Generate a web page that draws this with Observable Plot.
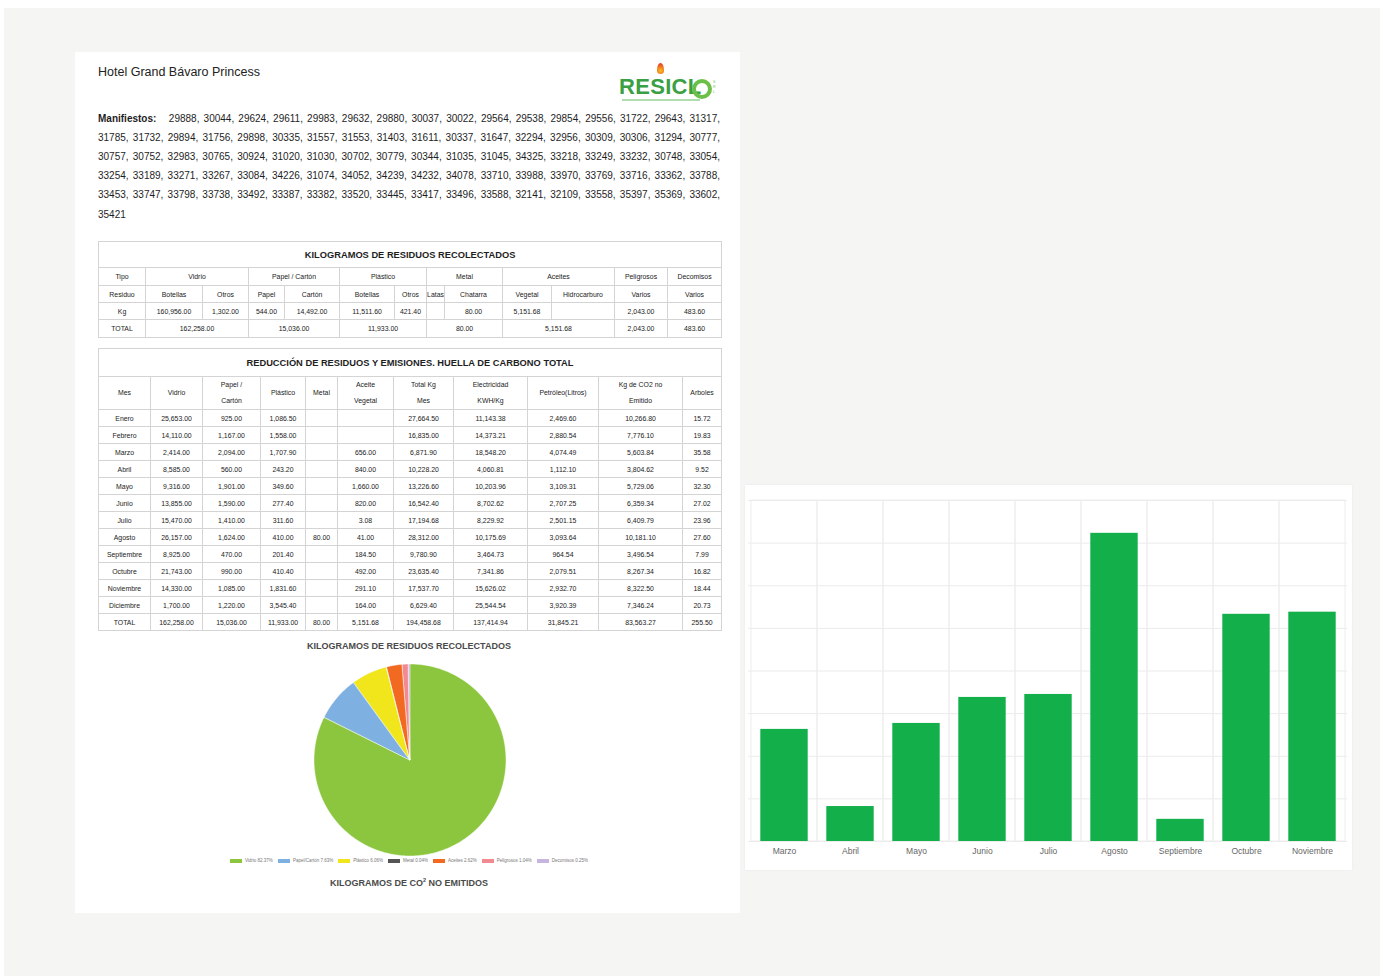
<!DOCTYPE html>
<html><head><meta charset="utf-8">
<script src="https://cdn.jsdelivr.net/npm/d3@7"></script>
<script src="https://cdn.jsdelivr.net/npm/@observablehq/plot@0.6"></script>
<style>
body{margin:0;width:1383px;height:978px;background:#fff;font-family:"Liberation Sans",Arial,sans-serif;position:relative;overflow:hidden;color:#222}
#bg{position:absolute;left:4px;top:8px;width:1376px;height:968px;background:#f5f5f4}
#paper{position:absolute;left:75px;top:52px;width:665px;height:861px;background:#fff}
.abs{position:absolute}
#hotel{left:98px;top:65px;font-size:12.5px;line-height:14px;color:#222}
#manif{left:98px;top:108.5px;width:622px;font-size:10px;line-height:19.2px;color:#1e1e1e}
#manif div{text-align:justify;text-align-last:justify;white-space:normal}
#manif div.last{text-align-last:left}
table{border-collapse:collapse;table-layout:fixed;position:absolute;left:98px;width:623px;font-size:6.9px;color:#222}
td,th{border:1px solid #d4d4d4;text-align:center;padding:0;overflow:hidden;white-space:nowrap;font-weight:normal}
th.title{font-weight:bold;font-size:9.3px;color:#1e1e1e}
#t2 .hdr td{line-height:16px;white-space:normal}
.ptitle{left:75px;width:668px;text-align:center;font-weight:bold;font-size:9px;color:#4a4a4a}
#legend{left:200px;width:418px;top:858px;display:flex;justify-content:center;align-items:center;gap:5px;font-size:4.5px;color:#777}
#legend span.sw{display:inline-block;width:12px;height:4px;margin-right:3px;vertical-align:middle}
#barpanel{left:745px;top:485px;width:607px;height:385px;background:#fff;box-shadow:0 0 2px rgba(0,0,0,0.06)}
</style></head>
<body>
<div id="bg"></div>
<div id="paper"></div>
<div id="hotel" class="abs">Hotel Grand Bávaro Princess</div>
<div id="logo" class="abs" style="left:619px;top:62px;width:106px;height:42px">
  <div class="abs" style="left:38px;top:1px;width:7px;height:11px;background:radial-gradient(circle at 50% 70%,#f6c022 0%,#ef6a1f 55%,#d92c1e 100%);border-radius:50% 50% 50% 50%/65% 65% 35% 35%"></div>
  <div class="abs" style="left:0;top:14px;font-weight:bold;font-size:22px;line-height:22px;color:#3aa043;letter-spacing:0.3px">RESICL</div>
  <div class="abs" style="left:73px;top:17px;width:12px;height:12px;border:4px solid #6cc04a;border-radius:50%"></div>
  <div class="abs" style="left:94px;top:18px;width:4px;height:16px;font-size:3.5px;line-height:5px;color:#6cc04a">S<br>R<br>L</div>
  <div class="abs" style="left:3px;top:37px;width:78px;height:2px;background:#8fcf8a;opacity:0.7"></div>
</div>
<div id="manif" class="abs"></div>
<table id="t1" style="top:241px"></table>
<table id="t2" style="top:348px"></table>
<div class="abs ptitle" style="top:641px">KILOGRAMOS DE RESIDUOS RECOLECTADOS</div>
<div id="pie" class="abs" style="left:314px;top:664px;width:192px;height:192px"></div>
<div id="legend" class="abs"></div>
<div class="abs ptitle" style="top:877px">KILOGRAMOS DE CO<sup style="font-size:5.5px">2</sup> NO EMITIDOS</div>
<div id="barpanel" class="abs"></div>
<script>
// ---------- DATA ----------
const hotelName = "Hotel Grand Bávaro Princess";
const manifiestos = [29888,30044,29624,29611,29983,29632,29880,30037,30022,29564,29538,29854,29556,31722,29643,31317,
31785,31732,29894,31756,29898,30335,31557,31553,31403,31611,30337,31647,32294,32956,30309,30306,31294,30777,
30757,30752,32983,30765,30924,31020,31030,30702,30779,30344,31035,31045,34325,33218,33249,33232,30748,33054,
33254,33189,33271,33267,33084,34226,31074,34052,34239,34232,34078,33710,33988,33970,33769,33716,33362,33788,
33453,33747,33798,33738,33492,33387,33382,33520,33445,33417,33496,33588,32141,32109,33558,35397,35369,33602,
35421];
const manifLineCounts = [16,18,18,18,18,1];

// Table 1
const t1Title = "KILOGRAMOS DE RESIDUOS RECOLECTADOS";
const t1Tipos = [["Vidrio",2],["Papel / Cartón",2],["Plástico",2],["Metal",2],["Aceites",2],["Peligrosos",1],["Decomisos",1]];
const t1Residuos = ["Botellas","Otros","Papel","Cartón","Botellas","Otros","Latas","Chatarra","Vegetal","Hidrocarburo","Varios","Varios"];
const t1Kg = [160956,1302,544,14492,11511.6,421.4,null,80,5151.68,null,2043,483.6];
const t1Totales = [162258,15036,11933,80,5151.68,2043,483.6];
const t1ColW = [47,57,46,36,55,55,32,18,58,49,63,53,54];

// Table 2
const t2Title = "REDUCCIÓN DE RESIDUOS Y EMISIONES. HUELLA DE CARBONO TOTAL";
const t2Headers = ["Mes","Vidrio","Papel /<br>Cartón","Plástico","Metal","Aceite<br>Vegetal","Total Kg<br>Mes","Electricidad<br>KWH/Kg","Petróleo(Litros)","Kg de CO2 no<br>Emitido","Arboles"];
const meses = ["Enero","Febrero","Marzo","Abril","Mayo","Junio","Julio","Agosto","Septiembre","Octubre","Noviembre","Diciembre"];
const vidrio = [25653,14110,2414,8585,9316,13855,15470,26157,8925,21743,14330,1700];
const papelCarton = [925,1167,2094,560,1901,1590,1410,1624,470,990,1085,1220];
const plastico = [1086.5,1558,1707.9,243.2,349.6,277.4,311.6,410,201.4,410.4,1831.6,3545.4];
const metal = [null,null,null,null,null,null,null,80,null,null,null,null];
const aceiteVegetal = [null,null,656,840,1660,820,3.08,41,184.5,492,291.1,164];
const totalKgMes = [27664.5,16835,6871.9,10228.2,13226.6,16542.4,17194.68,28312,9780.9,23635.4,17537.7,6629.4];
const electricidad = [11143.38,14373.21,18548.2,4060.81,10203.96,8702.62,8229.92,10175.69,3464.73,7341.86,15626.02,25544.54];
const petroleo = [2469.6,2880.54,4074.49,1112.1,3109.31,2707.25,2501.15,3093.64,964.54,2079.51,2932.7,3920.39];
const co2NoEmitido = [10266.8,7776.1,5603.84,3804.62,5729.06,6359.34,6409.79,10181.1,3496.54,8267.34,8322.5,7346.24];
const arboles = [15.72,19.83,35.58,9.52,32.3,27.02,23.96,27.6,7.99,16.82,18.44,20.73];
const t2Totales = [162258,15036,11933,80,5151.68,194458.68,137414.94,31845.21,83563.27,255.5];
const t2ColW = [52,52,58,45,32,56,60,74,71,84,39];

// Pie
const pieCategorias = ["Vidrio","Papel/Cartón","Plástico","Metal","Aceites","Peligrosos","Decomisos"];
const pieKg = [162258,15036,11933,80,5151.68,2043,483.6];
const pieColores = ["#8cc63f","#7fb0e2","#f1e61b","#555555","#f26a21","#f28a92","#c7b5e0"];

// Bar chart
const barMeses = ["Marzo","Abril","Mayo","Junio","Julio","Agosto","Septiembre","Octubre","Noviembre"];
const barValores = [2.63,0.82,2.77,3.38,3.45,7.23,0.52,5.33,5.38];
const barGrid = [0,1,2,3,4,5,6,7,8];

// ---------- RENDER ----------
const fmt = v => v == null ? "" : v.toLocaleString("en-US",{minimumFractionDigits:2,maximumFractionDigits:2});

// manifest
{
  const el = document.getElementById("manif");
  let k = 0;
  manifLineCounts.forEach((n, li) => {
    const nums = manifiestos.slice(k, k+n); k += n;
    const last = li === manifLineCounts.length-1;
    const txt = nums.join(", ") + (last ? "" : ",");
    const d = document.createElement("div");
    if (last) d.className = "last";
    d.innerHTML = (li === 0 ? "<b>Manifiestos:</b>&nbsp;&nbsp; " : "") + txt;
    el.appendChild(d);
  });
}

// table 1
{
  const t = document.getElementById("t1");
  let h = "<colgroup>" + t1ColW.map(w=>`<col style="width:${w}px">`).join("") + "</colgroup>";
  h += `<tr style="height:26px"><th class="title" colspan="13">${t1Title}</th></tr>`;
  h += `<tr style="height:18px"><td>Tipo</td>` + t1Tipos.map(([n,c])=>`<td colspan="${c}">${n}</td>`).join("") + "</tr>";
  h += `<tr style="height:17px"><td>Residuo</td>` + t1Residuos.map(r=>`<td>${r}</td>`).join("") + "</tr>";
  h += `<tr style="height:17px"><td>Kg</td>` + t1Kg.map(v=>`<td>${fmt(v)}</td>`).join("") + "</tr>";
  h += `<tr style="height:18px"><td>TOTAL</td>` + t1Totales.map((v,i)=>`<td colspan="${t1Tipos[i][1]}">${fmt(v)}</td>`).join("") + "</tr>";
  t.innerHTML = h;
}

// table 2
{
  const t = document.getElementById("t2");
  let h = "<colgroup>" + t2ColW.map(w=>`<col style="width:${w}px">`).join("") + "</colgroup>";
  h += `<tr style="height:28px"><th class="title" colspan="11">${t2Title}</th></tr>`;
  h += `<tr class="hdr" style="height:32px">` + t2Headers.map(x=>`<td>${x}</td>`).join("") + "</tr>";
  const cols = [vidrio,papelCarton,plastico,metal,aceiteVegetal,totalKgMes,electricidad,petroleo,co2NoEmitido,arboles];
  meses.forEach((m,i)=>{
    h += `<tr style="height:17px"><td>${m}</td>` + cols.map(c=>`<td>${fmt(c[i])}</td>`).join("") + "</tr>";
  });
  h += `<tr style="height:17px"><td>TOTAL</td>` + t2Totales.map(v=>`<td>${fmt(v)}</td>`).join("") + "</tr>";
  t.innerHTML = h;
}

// pie (wedges as areas from center to arc, through linear scales)
{
  const total = d3.sum(pieKg);
  const rows = [];
  let acc = 0;
  pieKg.forEach((v,i)=>{
    const a0 = acc/total*2*Math.PI, a1 = (acc+v)/total*2*Math.PI;
    acc += v;
    const n = Math.max(2, Math.ceil((a1-a0)/0.01));
    for (let j=0;j<=n;j++){
      const a = a0 + (a1-a0)*j/n;
      rows.push({cat:pieCategorias[i], x1:0, y1:0, x2:Math.sin(a), y2:Math.cos(a)});
    }
  });
  const pie = Plot.plot({
    width:192, height:192, margin:0,
    x:{domain:[-1,1], axis:null},
    y:{domain:[-1,1], axis:null},
    color:{domain:pieCategorias, range:pieColores},
    style:{background:"transparent", overflow:"visible"},
    marks:[
      Plot.area(rows, {x1:"x1", y1:"y1", x2:"x2", y2:"y2", z:"cat", fill:"cat", stroke:"#ffffff", strokeWidth:0.6, strokeOpacity:0.8})
    ]
  });
  document.getElementById("pie").appendChild(pie);

  const lg = document.getElementById("legend");
  pieCategorias.forEach((c,i)=>{
    const s = document.createElement("span");
    s.innerHTML = `<span class="sw" style="background:${pieColores[i]}"></span>${c} ${(pieKg[i]/total*100).toFixed(2)}%`;
    lg.appendChild(s);
  });
}

// bar chart
{
  const data = barMeses.map((m,i)=>({mes:m, valor:barValores[i]}));
  const chart = Plot.plot({
    width:607, height:385,
    marginLeft:3, marginRight:5, marginTop:15, marginBottom:29,
    x:{domain:barMeses, padding:0, label:null},
    y:{domain:[0,8], axis:null},
    style:{background:"transparent", fontFamily:"'Liberation Sans', Arial, sans-serif", fontSize:"8.5px", color:"#666"},
    marks:[
      Plot.gridY(barGrid, {stroke:"#ebebeb", strokeOpacity:1}),
      Plot.cell(barMeses, {x:d=>d, fill:"none", stroke:"#ededed"}),
      Plot.barY(data, {x:"mes", y:"valor", fill:"#12af4b", insetLeft:9.3, insetRight:9.3}),
      Plot.axisX({tickSize:0, tickPadding:6, label:null, fill:"#666"})
    ]
  });
  document.getElementById("barpanel").appendChild(chart);
}
</script>
</body></html>
